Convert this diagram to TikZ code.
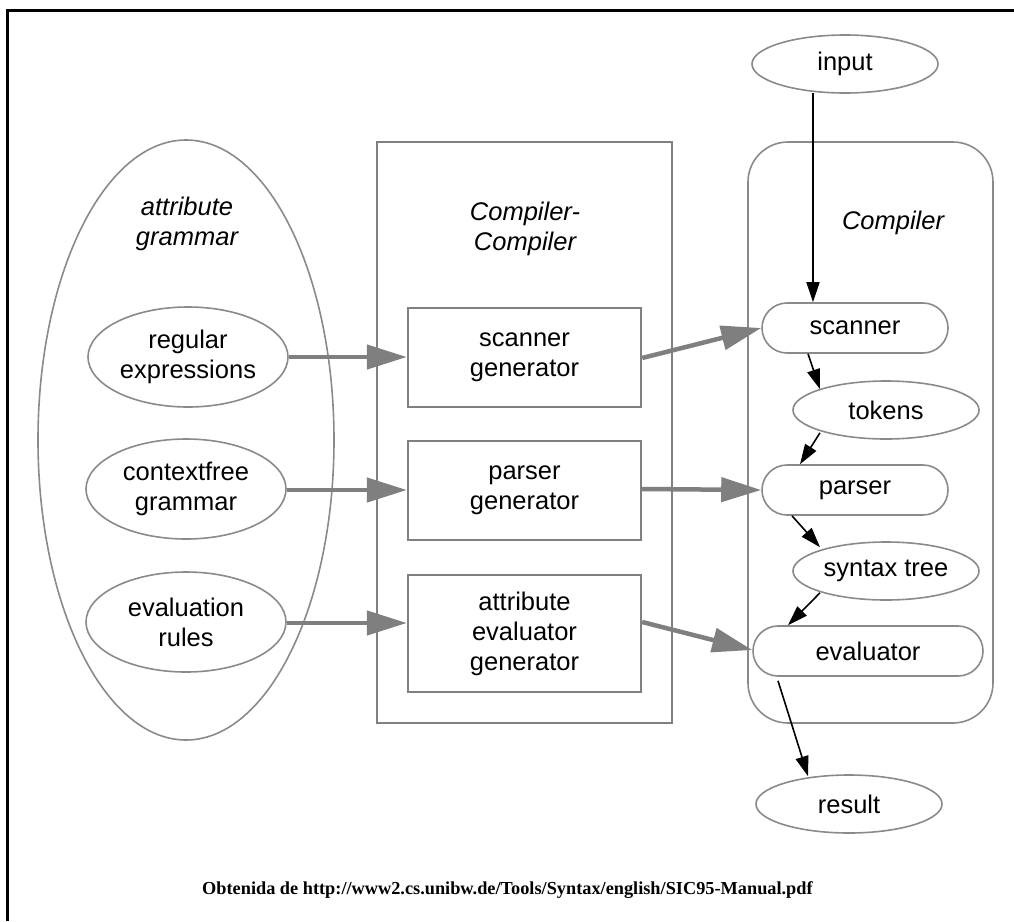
\documentclass[tikz,border=0pt]{standalone}
\usepackage{fontspec}
\setmainfont{Liberation Sans}
\newfontfamily\footfont{Liberation Serif}
\usetikzlibrary{shapes.geometric,arrows.meta}
\definecolor{edgegray}{HTML}{8A8A8A}
\definecolor{boxgray}{HTML}{808080}
\definecolor{flowgray}{HTML}{7F7F7F}
\begin{document}
\begin{tikzpicture}[x=1pt,y=-1pt,
  lbl/.style={font=\fontsize{25.5}{30}\selectfont, text=black, align=center},
  ital/.style={font=\fontsize{25.5}{30}\selectfont\itshape, text=black, align=center},
  oval/.style={ellipse, draw=edgegray, line width=1.6pt, inner sep=0pt, lbl},
  smalloval/.style={oval, minimum width=186pt, minimum height=58pt},
  bigoval/.style={oval, minimum width=200pt, minimum height=100pt},
  pill/.style={rectangle, rounded corners=25pt, draw=edgegray, line width=1.6pt,
    minimum height=50pt, inner sep=0pt, lbl},
  genbox/.style={rectangle, draw=boxgray, line width=2.4pt, minimum width=233pt,
    inner sep=0pt, lbl},
  feed/.style={draw=flowgray, line width=4.5pt,
    -{Triangle[length=40pt,width=24pt,fill=flowgray]}},
  flow/.style={draw=black, line width=1.6pt,
    -{Triangle[length=20pt,width=13pt,fill=black]}}
]
\useasboundingbox (0,0) rectangle (1014,921);

% page frame (top and left rules)
\draw[line width=3pt, black] (7,921) -- (7,10.5) -- (1014,10.5);

% containers
\node[ellipse, draw=edgegray, line width=1.6pt, minimum width=296pt,
      minimum height=600pt, inner sep=0pt] (ag) at (186,440) {};
\node[ital] (agl) at (187,224) {attribute\\grammar};

\node[rectangle, draw=boxgray, line width=2.4pt, minimum width=295pt,
      minimum height=581pt, inner sep=0pt] (cc) at (524.5,432.5) {};
\node[ital] (ccl) at (525,229) {Compiler-\\Compiler};

\node[rectangle, rounded corners=40pt, draw=edgegray, line width=1.6pt,
      minimum width=245pt, minimum height=581pt, inner sep=0pt] (co) at (870.5,432.5) {};
\node[ital] (col) at (893,223) {Compiler};

% attribute grammar parts
\node[bigoval] (rex) at (188,357) {regular\\expressions};
\node[bigoval] (cfg) at (186,489) {contextfree\\grammar};
\node[bigoval] (evr) at (186,622) {evaluation\\rules};

% generators
\node[genbox, minimum height=99pt]  (sg) at (524.5,357.5) {scanner\\generator};
\node[genbox, minimum height=99pt]  (pg) at (524.5,490.5) {parser\\generator};
\node[genbox, minimum height=117pt] (ag2) at (524.5,633.5) {attribute\\evaluator\\generator};

% compiler pipeline
\node[smalloval] (in) at (845,64) {input};
\node[pill, minimum width=186pt] (sc) at (855,328) {scanner};
\node[smalloval] (tk) at (886,410) {tokens};
\node[pill, minimum width=186pt] (pa) at (855,490) {parser};
\node[smalloval] (st) at (886,571) {syntax tree};
\node[pill, minimum width=230pt] (ev) at (868,651) {evaluator};
\node[smalloval] (rs) at (849,804) {result};

% grammar parts into generators
\draw[feed] (rex.east) -- (rex.east -| sg.west);
\draw[feed] ([yshift=-1pt]cfg.east) -- ([yshift=-1pt]cfg.east -| pg.west);
\draw[feed] ([yshift=-1pt]evr.east) -- ([yshift=-1pt]evr.east -| ag2.west);

% generators into compiler parts
\draw[feed] ([yshift=-0.5pt]sg.east) -- (sc.west);
\draw[feed] ([yshift=1.5pt]pg.east) -- (pa.west);
\draw[feed] ([yshift=11.5pt]ag2.east) -- ([yshift=1pt]ev.west);

% data flow through the compiler
\draw[flow] ([xshift=-32pt,yshift=1pt]in.south) -- ([xshift=-42pt]sc.north);
\draw[flow] ([xshift=-47pt]sc.south) -- ([xshift=-66pt,yshift=-9pt]tk.north);
\draw[flow] ([xshift=-66pt,yshift=7pt]tk.south) -- ([xshift=-55pt]pa.north);
\draw[flow] ([xshift=-63pt]pa.south) -- ([xshift=-66pt,yshift=-6pt]st.north);
\draw[flow] ([xshift=-66pt,yshift=8pt]st.south) -- ([xshift=-80pt]ev.north);
\draw[flow] ([xshift=-90pt,yshift=-4pt]ev.south) -- ([xshift=-41pt,yshift=-2pt]rs.north);

% source note
\node[anchor=west, inner sep=0pt, font=\footfont\bfseries\fontsize{18.3}{21}\selectfont]
  (src) at (202,890) {Obtenida de http://www2.cs.unibw.de/Tools/Syntax/english/SIC95-Manual.pdf};
\end{tikzpicture}
\end{document}
